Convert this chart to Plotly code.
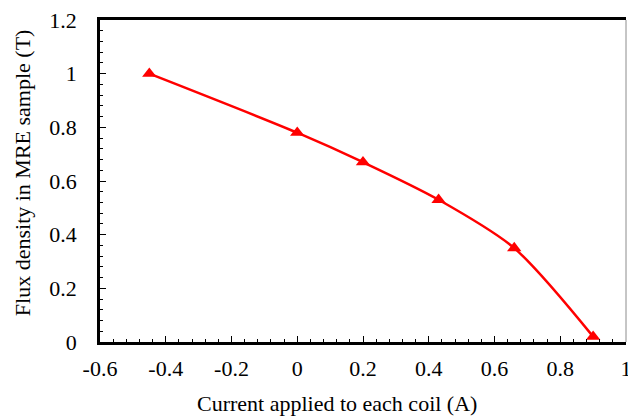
import plotly.graph_objects as go

current = [-0.45, 0.0, 0.2, 0.43, 0.66, 0.9]
flux = [1.0, 0.78, 0.67, 0.53, 0.35, 0.02]

x_tickvals = [-0.6, -0.4, -0.2, 0.0, 0.2, 0.4, 0.6, 0.8, 1.0]
x_ticktext = ["-0.6", "-0.4", "-0.2", "0", "0.2", "0.4", "0.6", "0.8", "1"]
y_tickvals = [0, 0.2, 0.4, 0.6, 0.8, 1.0, 1.2]
y_ticktext = ["0", "0.2", "0.4", "0.6", "0.8", "1", "1.2"]

x_title = "Current applied to each coil (A)"
y_title = "Flux density in MRE sample (T)"

FONT = "Liberation Serif, Times New Roman, serif"

fig = go.Figure()
fig.add_trace(go.Scatter(
    x=current, y=flux, mode="lines+markers",
    line=dict(color="#FF0000", width=2.5, shape="spline", smoothing=0.8),
    marker=dict(symbol="triangle-up", size=12.5, color="#FF0000"),
    showlegend=False,
))

axis_common = dict(
    showgrid=False, zeroline=False, showline=True, linecolor="black", linewidth=2.5,
    ticks="inside", ticklen=6, tickwidth=1.2, tickcolor="black",
    tickfont=dict(family=FONT, size=22, color="black"), automargin=False,
    ticklabeloverflow="allow",
)

fig.update_xaxes(
    range=[-0.6, 1.0], tickmode="array", tickvals=x_tickvals, ticktext=x_ticktext,
    mirror=True, ticklabelstandoff=5,
    minor=dict(tickmode="linear", tick0=-0.6, dtick=0.04, ticks="inside", ticklen=3.5,
               tickwidth=1.2, tickcolor="black"),
    **axis_common,
)
fig.update_yaxes(
    range=[0, 1.2], tickmode="array", tickvals=y_tickvals, ticktext=y_ticktext,
    ticklabelstandoff=16,
    minor=dict(tickmode="linear", tick0=0, dtick=0.04, ticks="inside", ticklen=3.5,
               tickwidth=1.2, tickcolor="black"),
    **axis_common,
)

fig.add_shape(type="line", xref="paper", yref="paper", x0=1, x1=1, y0=0, y1=1,
              line=dict(color="#8c8c8c", width=1))

fig.add_annotation(text=x_title, xref="paper", yref="paper", x=0.45, y=-0.19,
                   showarrow=False, xanchor="center", yanchor="middle",
                   font=dict(family=FONT, size=22, color="black"))
fig.add_annotation(text=y_title, xref="paper", yref="paper", x=-0.146, y=0.525,
                   showarrow=False, xanchor="center", yanchor="middle", textangle=-90,
                   font=dict(family=FONT, size=22, color="black"))

fig.update_layout(
    width=628, height=418, template="none",
    margin=dict(l=100, r=2, t=20, b=76),
    paper_bgcolor="white", plot_bgcolor="white",
)

fig.write_html("out.html", config={"displayModeBar": False},
               post_script="document.body.style.margin='0';document.body.style.overflow='hidden';")
